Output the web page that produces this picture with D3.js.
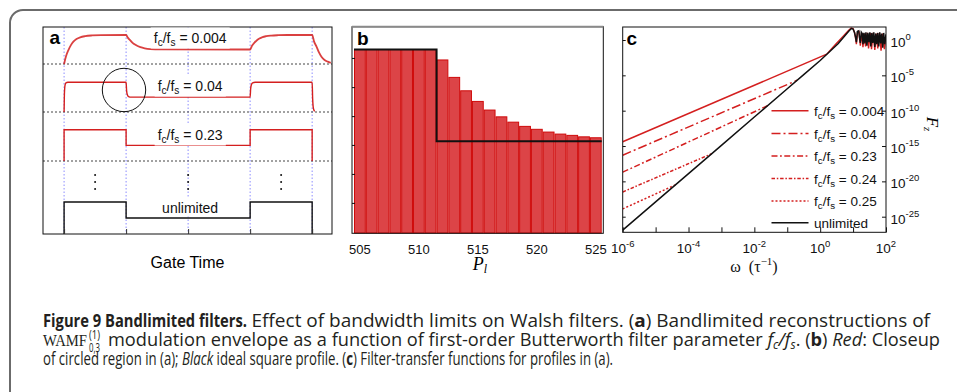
<!DOCTYPE html>
<html><head><meta charset="utf-8">
<script src="https://cdn.jsdelivr.net/npm/d3@7"></script>
<style>body{margin:0;background:#fff}svg{display:block}</style>
</head><body><svg id="c" width="957" height="392"></svg>
<script>
// ---------------- DATA ----------------
// Panel a: gate boundaries (time units) and reconstructed envelopes [t, normalised level]
const gateTimes = [0, 1, 2, 3, 4];
const traceNames = ["0.004", "0.04", "0.23", "unlimited"];
const trace004 = [[0,0],[0.03,0.26],[0.07,0.48],[0.11,0.65],[0.15,0.77],[0.2,0.86],[0.26,0.92],[0.34,0.96],[0.45,0.985],[0.6,0.997],[1,1],
  [1.03,0.9],[1.06,0.83],[1.1,0.74],[1.15,0.66],[1.23,0.58],[1.3,0.54],[1.39,0.515],[1.55,0.503],[3,0.5],
  [3.03,0.63],[3.07,0.74],[3.11,0.82],[3.15,0.88],[3.2,0.93],[3.26,0.96],[3.34,0.98],[3.45,0.993],[3.6,1],[4,1],
  [4.03,0.78],[4.07,0.6],[4.11,0.4],[4.15,0.25],[4.2,0.14],[4.25,0.08],[4.3,0.04]];
const trace04 = [[0,0],[0.005,0.6],[0.015,0.9],[0.03,0.98],[0.06,1],[1,1],[1.008,0.72],[1.02,0.58],[1.04,0.52],[1.08,0.5],[3,0.5],
  [3.008,0.78],[3.02,0.92],[3.04,0.98],[3.08,1],[4,1],[4.008,0.45],[4.02,0.12],[4.04,0.02]];
const trace23 = [[0,0],[0,1],[1,1],[1,0.5],[3,0.5],[3,1],[4,1],[4,0]];
const traceUnlimited = [[0,0],[0,1],[1,1],[1,0.5],[3,0.5],[3,1],[4,1],[4,0]];

// Panel b: closeup bins P_l, bandlimited (red) and ideal square (black) profiles
const pLabels = [505,506,507,508,509,510,511,512,513,514,515,516,517,518,519,520,521,522,523,524,525];
const closeupValues = [1,1,1,1,1,1,1,0.943,0.848,0.775,0.717,0.670,0.633,0.604,0.581,0.565,0.550,0.539,0.532,0.524,0.519];
const idealValues = [1,1,1,1,1,1,1,0.5,0.5,0.5,0.5,0.5,0.5,0.5,0.5,0.5,0.5,0.5,0.5,0.5,0.5];
const pTickLabels = [505, 510, 515, 520, 525];
const bYTicks = [0.164, 0.322, 0.480, 0.637, 0.795, 0.954];

// Panel c: filter transfer functions, points as [log10 omega, log10 Fz]
const omegaTickExp = [-6,-5,-4,-3,-2,-1,0,1,2];
const omegaLabelExp = [-6,-4,-2,0,2];
const fzTickExp = [0,-5,-10,-15,-20,-25];
const filterNames = ["0.004","0.04","0.23","0.24","0.25"];
const tf004 = [[-6,-14.4],[0.2,-2.0]];
const tf04  = [[-6,-16.3],[-0.7,-5.7]];
const tf23  = [[-6,-18.7],[-1.6,-9.3]];
const tf24  = [[-6,-21.5],[-3.3,-16.1]];
const tf25  = [[-6,-23.9],[-4.4,-20.5]];
const tfUnlimited = [[-6,-26.9],[-5,-22.9],[-4,-18.9],[-3,-14.9],[-2,-10.9],[-1,-6.9],[-0.5,-4.9],[0,-2.9],[0.3,-1.6],[0.55,-0.5],[0.75,0.6],[0.88,1.3],[0.95,1.62],[1.0,1.55],
  [1.04,1.1],[1.08,0.3],[1.1,-0.3],[1.13,1.2],[1.17,1.3],[1.2,0.2],[1.22,-0.4],[1.25,1.1],[1.28,0.9],[1.3,-0.6],[1.33,1.0],[1.36,-0.5],[1.39,1.1],[1.42,-0.8],[1.45,1.0],[1.48,-0.3],
  [1.51,1.1],[1.54,-0.9],[1.57,1.0],[1.6,-0.4],[1.63,1.1],[1.66,-1.0],[1.69,0.9],[1.72,-0.6],[1.75,1.0],[1.78,-0.9],[1.81,1.1],[1.84,-0.5],[1.87,0.9],[1.9,-1.1],[1.93,1.0],[1.96,-0.6],[2.0,0.8]];
const tfRedTail = [[0.2,-2.0],[0.45,-0.7],[0.7,0.55],[0.86,1.35],[0.94,1.68],[1.0,1.6],[1.05,1.0],[1.1,-0.6],[1.14,1.2],[1.18,1.2],[1.22,-0.8],[1.26,1.0],[1.3,-1.0],[1.34,0.9],[1.38,-0.9],
  [1.43,1.0],[1.47,-1.2],[1.52,1.0],[1.56,-1.3],[1.61,1.0],[1.66,-1.4],[1.7,0.9],[1.75,-1.2],[1.8,1.0],[1.85,-1.5],[1.9,0.9],[1.95,-1.3],[2.0,0.6]];

// ---------------- DRAW ----------------
const svg = d3.select("#c");
const RED = "#d41f1f";
const SANS = "'Liberation Sans', Arial, sans-serif";
const SERIF = "'Liberation Serif', 'Times New Roman', serif";
svg.append("rect").attr("width",957).attr("height",392).attr("fill","#fff");
svg.append("rect").attr("x",10).attr("y",10).attr("width",1000).attr("height",420).attr("rx",13)
  .attr("fill","none").attr("stroke","#6b6b6b").attr("stroke-width",2);

function fracLabel(sel, x, y, value, size, anchor) {
  const t = sel.append("text").attr("x",x).attr("y",y).attr("font-family",SANS).attr("font-size",size)
    .attr("text-anchor",anchor||"middle").attr("fill","#111");
  if (value === "unlimited") { t.text("unlimited"); return t; }
  t.append("tspan").text("f");
  t.append("tspan").attr("font-size",size*0.72).attr("dy",3).text("c");
  t.append("tspan").attr("dy",-3).text("/f");
  t.append("tspan").attr("font-size",size*0.72).attr("dy",3).text("s");
  t.append("tspan").attr("dy",-3).text(" = " + value);
  return t;
}

// ===== Panel a =====
const A = {x0:43, x1:332, y0:27, y1:234};
const xa = d3.scaleLinear().domain([-0.34, 4.32]).range([A.x0, A.x1]);
const rowBase = [64, 112, 161, 234], rowAmp = [29, 29.7, 31.3, 32];
const ga = svg.append("g");
ga.selectAll("line.gate").data(gateTimes).join("line")
  .attr("x1",d=>xa(d)).attr("x2",d=>xa(d)).attr("y1",A.y0).attr("y2",A.y1)
  .attr("stroke","#8c8cff").attr("stroke-width",1).attr("stroke-dasharray","1.5,2");
ga.selectAll("line.base").data(rowBase.slice(0,3)).join("line")
  .attr("x1",A.x0).attr("x2",A.x1).attr("y1",d=>d).attr("y2",d=>d)
  .attr("stroke","#444").attr("stroke-width",1).attr("stroke-dasharray","2,2");
const traces = [trace004, trace04, trace23, traceUnlimited];
traces.forEach((tr,i)=>{
  const ya = d3.scaleLinear().domain([0,1]).range([rowBase[i], rowBase[i]-rowAmp[i]]);
  const line = d3.line().x(d=>xa(d[0])).y(d=>ya(d[1])).curve(i<2 ? d3.curveMonotoneX : d3.curveLinear);
  ga.append("path").attr("d", line(tr)).attr("fill","none")
    .attr("stroke", i===3 ? "#111" : RED).attr("stroke-width", i===0 ? 1.8 : 1.4)
    .attr("stroke-opacity", i===0 ? 0.85 : 1);
});
ga.append("rect").attr("x",A.x0).attr("y",A.y0).attr("width",A.x1-A.x0).attr("height",A.y1-A.y0)
  .attr("fill","none").attr("stroke","#111").attr("stroke-width",1);
ga.append("g").attr("transform",`translate(0,${A.y1})`)
  .call(d3.axisBottom(xa).tickValues(gateTimes).tickSize(-5).tickFormat(""))
  .call(g=>{g.select(".domain").remove(); g.selectAll("line").attr("stroke","#333");});
traceNames.forEach((n,i)=>{
  const t = fracLabel(ga, xa(2)+2, rowBase[i]-21.5, n, 14);
  const bb = t.node().getBBox();
  ga.insert("rect", () => t.node()).attr("x",bb.x-3).attr("y",bb.y-2).attr("width",bb.width+6).attr("height",bb.height+3).attr("fill","#fff");
});
ga.append("circle").attr("cx",124).attr("cy",90).attr("r",21.7).attr("fill","none").attr("stroke","#111").attr("stroke-width",1);
[0.5,2,3.5].forEach(t=>{[175,182,189].forEach(y=>{
  ga.append("circle").attr("cx",xa(t)).attr("cy",y).attr("r",1).attr("fill","#111");
});});
ga.append("text").attr("x",49.5).attr("y",44).attr("font-family",SANS).attr("font-weight","bold").attr("font-size",19).text("a");
ga.append("text").attr("x",(A.x0+A.x1)/2).attr("y",268).attr("text-anchor","middle").attr("font-family",SANS).attr("font-size",16).text("Gate Time");

// ===== Panel b =====
const B = {x0:352, x1:603.3, y0:26.7, y1:233.3};
const xb = d3.scaleBand().domain(pLabels).range([354, 601.7]).padding(0);
const yb = d3.scaleLinear().domain([0,1]).range([233, 49.5]);
const gb = svg.append("g");
gb.selectAll("rect.bar").data(pLabels).join("rect")
  .attr("x",d=>xb(d)+0.5).attr("width",xb.bandwidth()-1)
  .attr("y",(d,i)=>yb(closeupValues[i])).attr("height",(d,i)=>yb(0)-yb(closeupValues[i]))
  .attr("fill","#dc4447").attr("stroke","#cf0a0a").attr("stroke-width",1);
const idealPts = [];
pLabels.forEach((p,i)=>{ idealPts.push([xb(p), idealValues[i]]); idealPts.push([xb(p)+xb.bandwidth(), idealValues[i]]); });
gb.append("path").attr("d", d3.line().x(d=>d[0]).y(d=>yb(d[1]))(idealPts))
  .attr("fill","none").attr("stroke","#111").attr("stroke-width",2);
gb.append("rect").attr("x",B.x0).attr("y",B.y0).attr("width",B.x1-B.x0).attr("height",B.y1-B.y0)
  .attr("fill","none").attr("stroke","#111").attr("stroke-width",1);
gb.append("line").attr("x1",B.x0).attr("x2",B.x1).attr("y1",B.y0).attr("y2",B.y0).attr("stroke","#8a8a8a").attr("stroke-width",2);
gb.append("g").attr("transform",`translate(${B.x0},0)`)
  .call(d3.axisLeft(yb).tickValues(bYTicks).tickSize(-3).tickFormat(""))
  .call(g=>{g.select(".domain").remove(); g.selectAll("line").attr("stroke","#111");});
gb.append("g").attr("transform",`translate(0,${B.y1})`)
  .call(d3.axisBottom(xb).tickValues(pTickLabels).tickSize(0).tickPadding(11))
  .call(g=>{g.select(".domain").remove(); g.selectAll("text").attr("font-family",SANS).attr("font-size",13).attr("fill","#111");});
gb.append("text").attr("x",357).attr("y",45).attr("font-family",SANS).attr("font-weight","bold").attr("font-size",19).text("b");
const pl = gb.append("text").attr("x",480).attr("y",270).attr("text-anchor","middle").attr("font-family",SERIF).attr("font-style","italic").attr("font-size",18);
pl.append("tspan").text("P"); pl.append("tspan").attr("font-size",12).attr("dy",3).text("l");

// ===== Panel c =====
const C = {x0:622.7, x1:886, y0:27, y1:232.3};
const xc = d3.scaleLog().domain([1e-6,1e2]).range([C.x0, C.x1]);
const yc = d3.scaleLog().domain([1e-25,1]).range([216.7, 40]);
const gc = svg.append("g");
gc.append("clipPath").attr("id","clipc").append("rect").attr("x",C.x0).attr("y",C.y0).attr("width",C.x1-C.x0).attr("height",C.y1-C.y0);
const plot = gc.append("g").attr("clip-path","url(#clipc)");
const lc = d3.line().x(d=>xc(Math.pow(10,d[0]))).y(d=>yc(Math.pow(10,d[1])));
const filterData = [tf004, tf04, tf23, tf24, tf25];
const dashes = [null, "9,3,2,3", "6,2.5,1.8,2.5", "3.5,1.8,1.5,1.8", "2,2"];
plot.append("path").attr("d", lc(tfRedTail)).attr("fill","none").attr("stroke",RED).attr("stroke-width",1.4);
filterData.forEach((f,i)=>{
  plot.append("path").attr("d", lc(f)).attr("fill","none").attr("stroke",RED).attr("stroke-width",1.5)
    .attr("stroke-dasharray", dashes[i]);
});
plot.append("path").attr("d", lc(tfUnlimited)).attr("fill","none").attr("stroke","#111").attr("stroke-width",1.5);
gc.append("rect").attr("x",C.x0).attr("y",C.y0).attr("width",C.x1-C.x0).attr("height",C.y1-C.y0)
  .attr("fill","none").attr("stroke","#111").attr("stroke-width",1);
gc.append("g").attr("transform",`translate(0,${C.y1})`)
  .call(d3.axisBottom(xc).tickValues(omegaTickExp.map(e=>Math.pow(10,e))).tickSize(-5).tickFormat(""))
  .call(g=>{g.select(".domain").remove(); g.selectAll("line").attr("stroke","#111");});
gc.append("g").attr("transform",`translate(${C.x1},0)`)
  .call(d3.axisRight(yc).tickValues(fzTickExp.map(e=>Math.pow(10,e))).tickSize(-4).tickFormat(""))
  .call(g=>{g.select(".domain").remove(); g.selectAll("line").attr("stroke","#111");});
gc.append("g").attr("transform",`translate(${C.x0},0)`)
  .call(d3.axisLeft(yc).tickValues(fzTickExp.map(e=>Math.pow(10,e))).tickSize(-3).tickFormat(""))
  .call(g=>{g.select(".domain").remove(); g.selectAll("line").attr("stroke","#111");});
omegaLabelExp.forEach(e=>{
  const t = gc.append("text").attr("x",xc(Math.pow(10,e))).attr("y",253).attr("text-anchor","middle").attr("font-family",SANS).attr("font-size",13.5).attr("fill","#111");
  t.append("tspan").text("10"); t.append("tspan").attr("font-size",9.5).attr("dy",-6).text(e<0 ? "-"+(-e) : String(e));
});
fzTickExp.forEach(e=>{
  const t = gc.append("text").attr("x",890.5).attr("y",yc(Math.pow(10,e))+7).attr("font-family",SANS).attr("font-size",13.5).attr("fill","#111");
  t.append("tspan").text("10"); t.append("tspan").attr("font-size",9.5).attr("dy",-7).text(e<0 ? "-"+(-e) : String(e));
});
gc.append("text").attr("x",626.5).attr("y",45).attr("font-family",SANS).attr("font-weight","bold").attr("font-size",19).text("c");
const wl = gc.append("text").attr("x",754).attr("y",272).attr("text-anchor","middle").attr("font-family",SERIF).attr("font-size",16).attr("fill","#111");
wl.append("tspan").text("ω\u2002(τ"); wl.append("tspan").attr("font-size",11).attr("dy",-7).text("−1"); wl.append("tspan").attr("dy",7).text(")");
const fz = gc.append("text").attr("transform","translate(927,124) rotate(90)").attr("text-anchor","middle").attr("font-family",SERIF).attr("font-style","italic").attr("font-size",17);
fz.append("tspan").text("F"); fz.append("tspan").attr("font-size",11).attr("dy",3).text("z");
// legend
const legY = [110.7, 133.5, 156, 178.5, 201, 222.7];
const legNames = filterNames.concat(["unlimited"]);
legNames.forEach((n,i)=>{
  gc.append("line").attr("x1",771.5).attr("x2",808.5).attr("y1",legY[i]).attr("y2",legY[i])
    .attr("stroke", i===5 ? "#111" : RED).attr("stroke-width",1.5).attr("stroke-dasharray", i<5 ? dashes[i] : null);
  fracLabel(gc, 814, legY[i]+5, n, 13.5, "start");
});

// ===== Caption =====
const CAP = "'Open Sans', 'Noto Sans', sans-serif";
const cap = svg.append("g").attr("fill","#231f20").attr("font-family",CAP).attr("font-size",18.5);
cap.append("text").attr("x",43).attr("y",327).attr("font-weight","bold").attr("textLength",204).attr("lengthAdjust","spacingAndGlyphs").text("Figure 9  Bandlimited filters.");
const l1 = cap.append("text").attr("x",251.5).attr("y",327).attr("textLength",678.5).attr("lengthAdjust","spacingAndGlyphs");
l1.append("tspan").text("Effect of bandwidth limits on Walsh filters. (");
l1.append("tspan").attr("font-weight","bold").text("a");
l1.append("tspan").text(") Bandlimited reconstructions of");
cap.append("text").attr("x",43).attr("y",346).attr("font-family",SERIF).attr("font-size",17).attr("textLength",44).attr("lengthAdjust","spacingAndGlyphs").text("WAMF");
cap.append("text").attr("x",89).attr("y",338.5).attr("font-size",12).attr("textLength",11).attr("lengthAdjust","spacingAndGlyphs").text("(1)");
cap.append("text").attr("x",89).attr("y",352).attr("font-size",12).attr("textLength",11).attr("lengthAdjust","spacingAndGlyphs").text("0,3");
const l2 = cap.append("text").attr("x",108).attr("y",346).attr("textLength",832).attr("lengthAdjust","spacingAndGlyphs");
l2.append("tspan").text("modulation envelope as a function of first-order Butterworth filter parameter ");
l2.append("tspan").attr("font-style","italic").text("f");
l2.append("tspan").attr("font-style","italic").attr("font-size",12).attr("dy",3).text("c");
l2.append("tspan").attr("font-style","italic").attr("dy",-3).text("/f");
l2.append("tspan").attr("font-style","italic").attr("font-size",12).attr("dy",3).text("s");
l2.append("tspan").attr("dy",-3).text(". (");
l2.append("tspan").attr("font-weight","bold").text("b");
l2.append("tspan").text(") ");
l2.append("tspan").attr("font-style","italic").text("Red");
l2.append("tspan").text(": Closeup");
const l3 = cap.append("text").attr("x",43).attr("y",365).attr("textLength",570).attr("lengthAdjust","spacingAndGlyphs");
l3.append("tspan").text("of circled region in (a); ");
l3.append("tspan").attr("font-style","italic").text("Black");
l3.append("tspan").text(" ideal square profile. (");
l3.append("tspan").attr("font-weight","bold").text("c");
l3.append("tspan").text(") Filter-transfer functions for profiles in (a).");
</script></body></html>
